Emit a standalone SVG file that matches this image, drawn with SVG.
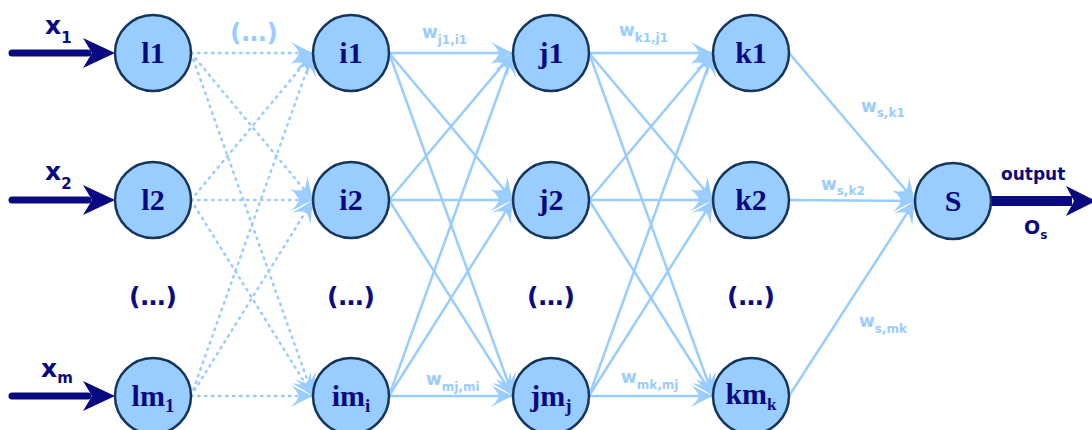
<svg xmlns="http://www.w3.org/2000/svg" width="1092" height="430" viewBox="0 0 1092 430">
<defs>
<marker id="la" viewBox="-23 -12 24 24" refX="0" refY="0" markerWidth="24" markerHeight="24" markerUnits="userSpaceOnUse" orient="auto">
<path d="M0,0 Q-9,-4 -22,-11 Q-15,-4 -14,0 Q-15,4 -22,11 Q-9,4 0,0 Z" fill="#99ccff"/>
</marker>
<style>
.n{fill:#99ccff;stroke:#15365a;stroke-width:2.5}
.nt{font-family:"Liberation Serif",serif;font-weight:bold;font-size:30px;fill:#0a0a80;text-anchor:middle}
.e{stroke:#99ccff;stroke-width:2.5;fill:none;marker-end:url(#la)}
.d{stroke:#99ccff;stroke-width:2.5;fill:none;stroke-dasharray:1.5 5.5;stroke-linecap:round;marker-end:url(#la)}
.w{font-family:"DejaVu Sans",sans-serif;font-weight:bold;font-size:17px;fill:#99ccff}
.ws{font-size:12px}
.nav{font-family:"DejaVu Sans",sans-serif;font-weight:bold;fill:#0a0a80}
.dots{font-family:"DejaVu Sans",sans-serif;font-weight:bold;font-size:25px;fill:#0a0a80;text-anchor:middle}
.big{stroke:#0a0a80;stroke-linecap:round;fill:none}
</style>
</defs>
<g id="connectors">
<g id="dotted">
<line class="d" x1="191" y1="53" x2="313" y2="53"/>
<line class="d" x1="191" y1="53" x2="313" y2="200"/>
<line class="d" x1="191" y1="53" x2="313" y2="396"/>
<line class="d" x1="191" y1="200" x2="313" y2="53"/>
<line class="d" x1="191" y1="200" x2="313" y2="200"/>
<line class="d" x1="191" y1="200" x2="313" y2="396"/>
<line class="d" x1="191" y1="396" x2="313" y2="53"/>
<line class="d" x1="191" y1="396" x2="313" y2="200"/>
<line class="d" x1="191" y1="396" x2="313" y2="396"/>
</g>
<g id="ij">
<line class="e" x1="389" y1="53" x2="513" y2="53"/>
<line class="e" x1="389" y1="53" x2="513" y2="200"/>
<line class="e" x1="389" y1="53" x2="513" y2="396"/>
<line class="e" x1="389" y1="200" x2="513" y2="53"/>
<line class="e" x1="389" y1="200" x2="513" y2="200"/>
<line class="e" x1="389" y1="200" x2="513" y2="396"/>
<line class="e" x1="389" y1="396" x2="513" y2="53"/>
<line class="e" x1="389" y1="396" x2="513" y2="200"/>
<line class="e" x1="389" y1="396" x2="513" y2="396"/>
</g>
<g id="jk">
<line class="e" x1="589" y1="53" x2="713" y2="53"/>
<line class="e" x1="589" y1="53" x2="713" y2="200"/>
<line class="e" x1="589" y1="53" x2="713" y2="396"/>
<line class="e" x1="589" y1="200" x2="713" y2="53"/>
<line class="e" x1="589" y1="200" x2="713" y2="200"/>
<line class="e" x1="589" y1="200" x2="713" y2="396"/>
<line class="e" x1="589" y1="396" x2="713" y2="53"/>
<line class="e" x1="589" y1="396" x2="713" y2="200"/>
<line class="e" x1="589" y1="396" x2="713" y2="396"/>
</g>
<g id="ks">
<line class="e" x1="789" y1="53" x2="915" y2="201"/>
<line class="e" x1="789" y1="200" x2="915" y2="201"/>
<line class="e" x1="789" y1="396" x2="915" y2="201"/>
</g>
<g id="inputs">
<line class="big" x1="12" y1="53" x2="88" y2="53" stroke-width="7"/>
<path d="M115,53 L83,38 L92,53 L83,68 Z" fill="#0a0a80"/>
<line class="big" x1="12" y1="200" x2="88" y2="200" stroke-width="7"/>
<path d="M115,200 L83,185 L92,200 L83,215 Z" fill="#0a0a80"/>
<line class="big" x1="12" y1="396" x2="88" y2="396" stroke-width="7"/>
<path d="M115,396 L83,381 L92,396 L83,411 Z" fill="#0a0a80"/>
</g>
<g id="output">
<line x1="990" y1="201" x2="1072" y2="201" stroke="#0a0a80" stroke-width="10"/>
<path d="M1096,201 L1066,186 L1074,201 L1066,216 Z" fill="#0a0a80"/>
</g>
</g>
<g id="l1"><circle class="n" cx="153" cy="53" r="38"/><text class="nt" x="153" y="63">l1</text></g>
<g id="l2"><circle class="n" cx="153" cy="200" r="38"/><text class="nt" x="153" y="210">l2</text></g>
<g id="lm1"><circle class="n" cx="153" cy="396" r="38"/><text class="nt" x="153" y="406">lm<tspan font-size="19" dy="6">1</tspan></text></g>
<g id="i1"><circle class="n" cx="351" cy="53" r="38"/><text class="nt" x="351" y="63">i1</text></g>
<g id="i2"><circle class="n" cx="351" cy="200" r="38"/><text class="nt" x="351" y="210">i2</text></g>
<g id="imi"><circle class="n" cx="351" cy="396" r="38"/><text class="nt" x="351" y="406">im<tspan font-size="19" dy="6">i</tspan></text></g>
<g id="j1"><circle class="n" cx="551" cy="53" r="38"/><text class="nt" x="551" y="63">j1</text></g>
<g id="j2"><circle class="n" cx="551" cy="200" r="38"/><text class="nt" x="551" y="210">j2</text></g>
<g id="jmj"><circle class="n" cx="551" cy="396" r="38"/><text class="nt" x="551" y="406">jm<tspan font-size="19" dy="6">j</tspan></text></g>
<g id="k1"><circle class="n" cx="751" cy="53" r="38"/><text class="nt" x="751" y="63">k1</text></g>
<g id="k2"><circle class="n" cx="751" cy="200" r="38"/><text class="nt" x="751" y="210">k2</text></g>
<g id="kmk"><circle class="n" cx="751" cy="396" r="38"/><text class="nt" x="751" y="404" font-size="23">km<tspan font-size="17" dy="6">k</tspan></text></g>
<g id="s"><circle class="n" cx="953" cy="201" r="38"/><text class="nt" x="953" y="211">S</text></g>
<g id="labels">
<text class="nav" x="45" y="34" font-size="25">x<tspan font-size="15" dy="9">1</tspan></text>
<text class="nav" x="45" y="180" font-size="25">x<tspan font-size="15" dy="9">2</tspan></text>
<text class="nav" x="41" y="377" font-size="25">x<tspan font-size="15" dy="6">m</tspan></text>
<text x="254" y="41" font-family="DejaVu Sans, sans-serif" font-weight="bold" font-size="25" fill="#99ccff" text-anchor="middle">(…)</text>
<text class="dots" x="153" y="305">(…)</text>
<text class="dots" x="351" y="305">(…)</text>
<text class="dots" x="551" y="305">(…)</text>
<text class="dots" x="751" y="305">(…)</text>
<text class="w" x="422" y="38">w<tspan class="ws" dy="6">j1,i1</tspan></text>
<text class="w" x="619" y="36">w<tspan class="ws" dy="6">k1,j1</tspan></text>
<text class="w" x="861" y="112">w<tspan class="ws" dy="5">s,k1</tspan></text>
<text class="w" x="821" y="190">w<tspan class="ws" dy="5">s,k2</tspan></text>
<text class="w" x="859" y="327">w<tspan class="ws" dy="6">s,mk</tspan></text>
<text class="w" x="426" y="385">w<tspan class="ws" dy="6">mj,mi</tspan></text>
<text class="w" x="621" y="383">w<tspan class="ws" dy="6">mk,mj</tspan></text>
<text class="nav" x="1001" y="180" font-size="17">output</text>
<text class="nav" x="1024" y="234" font-size="19">O<tspan font-size="12" dy="5">s</tspan></text>
</g>
</svg>
